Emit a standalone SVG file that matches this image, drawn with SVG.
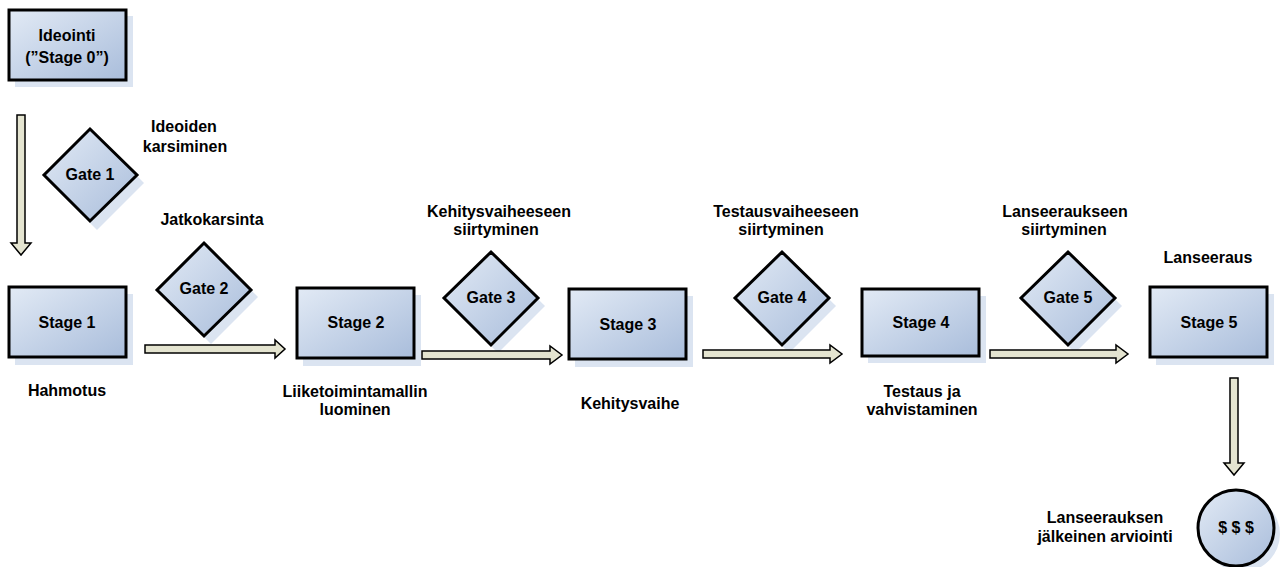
<svg xmlns="http://www.w3.org/2000/svg" width="1280" height="567" viewBox="0 0 1280 567">
<defs>
<linearGradient id="g" x1="0" y1="0" x2="1" y2="1">
<stop offset="0" stop-color="#e2eaf5"/>
<stop offset="1" stop-color="#a9bddb"/>
</linearGradient>
<style>
.n{fill:url(#g);stroke:#000;stroke-width:3}
.sh{fill:#dbe4f1}
.t{font-family:"Liberation Sans",Arial,sans-serif;font-weight:bold;font-size:16px;fill:#000;text-anchor:middle}
.ar{fill:#e4e4d0;stroke:#000;stroke-width:1.5;stroke-linejoin:miter}
</style>
</defs>
<rect width="1280" height="567" fill="#fff"/>

<g id="stage0">
<rect class="sh" x="15" y="16" width="118" height="71"/>
<rect class="n" x="9" y="10" width="117" height="70"/>
<text class="t" x="67" y="41">Ideointi</text>
<text class="t" x="67" y="63">(”Stage 0”)</text>
</g>

<g id="gate1">
<polygon class="sh" points="97,136 144,183 97,230 50,183"/>
<polygon class="n" points="90,129 137,175 90,221 44,175"/>
<text class="t" x="90" y="180">Gate 1</text>
</g>
<text class="t" x="184" y="132">Ideoiden</text>
<text class="t" x="185" y="152">karsiminen</text>

<g id="stage1">
<rect class="sh" x="15" y="294" width="118" height="71"/>
<rect class="n" x="9" y="287" width="117" height="70"/>
<text class="t" x="67" y="328">Stage 1</text>
</g>
<text class="t" x="67" y="396">Hahmotus</text>

<g id="gate2">
<polygon class="sh" points="211,251 258,297 211,344 164,297"/>
<polygon class="n" points="204,243 251,290 204,336 157,290"/>
<text class="t" x="204" y="294">Gate 2</text>
</g>
<text class="t" x="212" y="225">Jatkokarsinta</text>

<g id="stage2">
<rect class="sh" x="303" y="295" width="118" height="71"/>
<rect class="n" x="297" y="288" width="117" height="70"/>
<text class="t" x="356" y="328">Stage 2</text>
</g>
<text class="t" x="355" y="397">Liiketoimintamallin</text>
<text class="t" x="355" y="415">luominen</text>

<g id="gate3">
<polygon class="sh" points="498,260 545,306 498,353 451,306"/>
<polygon class="n" points="491,252 538,298 491,345 444,298"/>
<text class="t" x="491" y="303">Gate 3</text>
</g>
<text class="t" x="499" y="217">Kehitysvaiheeseen</text>
<text class="t" x="496" y="235">siirtyminen</text>

<g id="stage3">
<rect class="sh" x="575" y="296" width="118" height="71"/>
<rect class="n" x="569" y="289" width="117" height="70"/>
<text class="t" x="628" y="330">Stage 3</text>
</g>
<text class="t" x="630" y="409">Kehitysvaihe</text>

<g id="gate4">
<polygon class="sh" points="789,260 836,306 789,353 742,306"/>
<polygon class="n" points="782,252 829,298 782,345 735,298"/>
<text class="t" x="782" y="303">Gate 4</text>
</g>
<text class="t" x="786" y="217">Testausvaiheeseen</text>
<text class="t" x="781" y="235">siirtyminen</text>

<g id="stage4">
<rect class="sh" x="868" y="296" width="118" height="67"/>
<rect class="n" x="862" y="289" width="117" height="67"/>
<text class="t" x="921" y="328">Stage 4</text>
</g>
<text class="t" x="922" y="397">Testaus ja</text>
<text class="t" x="922" y="415">vahvistaminen</text>

<g id="gate5">
<polygon class="sh" points="1075,260 1122,306 1075,353 1028,306"/>
<polygon class="n" points="1068,252 1115,298 1068,345 1021,298"/>
<text class="t" x="1068" y="303">Gate 5</text>
</g>
<text class="t" x="1065" y="217">Lanseeraukseen</text>
<text class="t" x="1064" y="235">siirtyminen</text>

<g id="stage5">
<rect class="sh" x="1156" y="294" width="118" height="71"/>
<rect class="n" x="1150" y="287" width="117" height="70"/>
<text class="t" x="1209" y="328">Stage 5</text>
</g>
<text class="t" x="1208" y="263">Lanseeraus</text>

<g id="evaluation">
<circle class="sh" cx="1242" cy="534" r="38"/>
<circle class="n" cx="1236" cy="528" r="38"/>
<text class="t" x="1236" y="533">$ $ $</text>
</g>
<text class="t" x="1105" y="523">Lanseerauksen</text>
<text class="t" x="1105" y="542">jälkeinen arviointi</text>

<g id="connectors">
<polygon class="ar" points="17,115 25,115 25,243 31,243 21,255 11,243 17,243"/>
<polygon class="ar" points="145,345 275,345 275,340 285,349 275,358 275,353 145,353"/>
<polygon class="ar" points="422,351 550,351 550,346 562,355 550,364 550,359 422,359"/>
<polygon class="ar" points="703,350 830,350 830,345 842,354 830,363 830,358 703,358"/>
<polygon class="ar" points="990,350 1116,350 1116,345 1128,354 1116,363 1116,358 990,358"/>
<polygon class="ar" points="1230,378 1238,378 1238,463 1244,463 1234,475 1224,463 1230,463"/>
</g>
</svg>
